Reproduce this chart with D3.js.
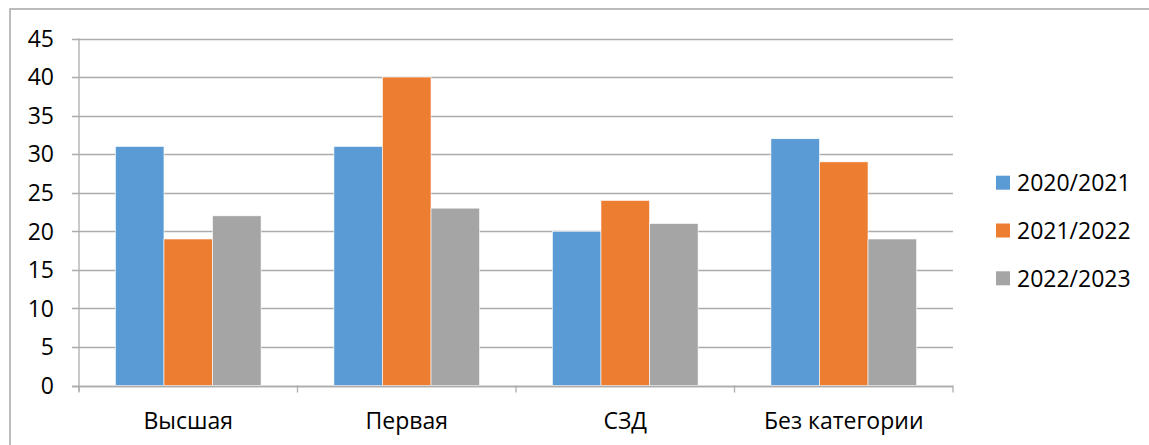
<!DOCTYPE html>
<html><head><meta charset="utf-8">
<script src="https://cdn.jsdelivr.net/npm/d3@7"></script>
<style>
body{margin:0;background:#fff;}
svg{display:block;font-family:"Open Sans",sans-serif;}
</style></head>
<body><svg id="c" width="1149" height="445"></svg>
<script>
const categories = ["Высшая","Первая","СЗД","Без категории"];
const seriesNames = ["2020/2021","2021/2022","2022/2023"];
const s2020 = [31,31,20,32];
const s2021 = [19,40,24,29];
const s2022 = [22,23,21,19];
const yTicks = [0,5,10,15,20,25,30,35,40,45];
const colors = ["#5b9bd5","#ed7d31","#a5a5a5"];

(function(){
const series = [s2020,s2021,s2022];
const svg = d3.select("#c");
const pL = 79, pR = 953, pT = 38.5, pB = 385.5;

// frame
svg.append("rect").attr("x",10).attr("y",9).attr("width",1200).attr("height",500)
  .attr("fill","none").attr("stroke","#a6a6a6").attr("stroke-width",1.5);

const x0 = d3.scaleBand().domain(categories).range([pL,pR]).paddingInner(0).paddingOuter(0);
const y = d3.scaleLinear().domain([0,45]).range([pB,pT]);
const x1 = d3.scaleBand().domain(d3.range(3)).range([0,x0.bandwidth()]).paddingOuter(0.75).paddingInner(0);

// gridlines
svg.selectAll(".grid").data(yTicks).join("line")
  .attr("x1",72).attr("x2",pR).attr("y1",d=>Math.round(y(d))+0.5).attr("y2",d=>Math.round(y(d))+0.5)
  .attr("stroke","#acacac").attr("stroke-width",1.3);
// y axis labels
svg.selectAll(".ylab").data(yTicks).join("text")
  .attr("x",54).attr("y",d=>y(d)).attr("dy","0.36em").attr("text-anchor","end")
  .attr("font-size",23).attr("fill","#000").text(d=>d);
// y axis line
svg.append("line").attr("x1",pL).attr("x2",pL).attr("y1",pT).attr("y2",pB+6)
  .attr("stroke","#acacac").attr("stroke-width",1.3);

// bars
const g = svg.append("g");
categories.forEach((c,ci)=>{
  series.forEach((s,si)=>{
    const bx = x0(c) + x1(si);
    g.append("rect").attr("x",bx).attr("width",x1.bandwidth())
      .attr("y",y(s[ci])).attr("height",y(0)-y(s[ci]))
      .attr("fill",colors[si]).attr("stroke","#ffffff").attr("stroke-width",0.6);
  });
});

// x axis
svg.append("line").attr("x1",72).attr("x2",pR).attr("y1",Math.round(pB)+0.5).attr("y2",Math.round(pB)+0.5)
  .attr("stroke","#acacac").attr("stroke-width",1.3);
const bounds = categories.map(c=>x0(c)).concat([pR]);
svg.selectAll(".xt").data(bounds).join("line")
  .attr("x1",d=>d).attr("x2",d=>d).attr("y1",pB).attr("y2",pB+7)
  .attr("stroke","#acacac").attr("stroke-width",1.3);
svg.selectAll(".xlab").data(categories).join("text")
  .attr("x",d=>x0(d)+x0.bandwidth()/2).attr("y",429).attr("text-anchor","middle")
  .attr("font-size",23).attr("fill","#000").text(d=>d);

// legend
const ly = d3.scalePoint().domain(seriesNames).range([182.7,278.3]);
const lg = svg.append("g");
seriesNames.forEach((n,i)=>{
  lg.append("rect").attr("x",996).attr("y",ly(n)-7).attr("width",14).attr("height",14).attr("fill",colors[i]);
  lg.append("text").attr("x",1017).attr("y",ly(n)).attr("dy","0.36em").attr("font-size",23).attr("fill","#000").text(n);
});
})();
</script></body></html>
